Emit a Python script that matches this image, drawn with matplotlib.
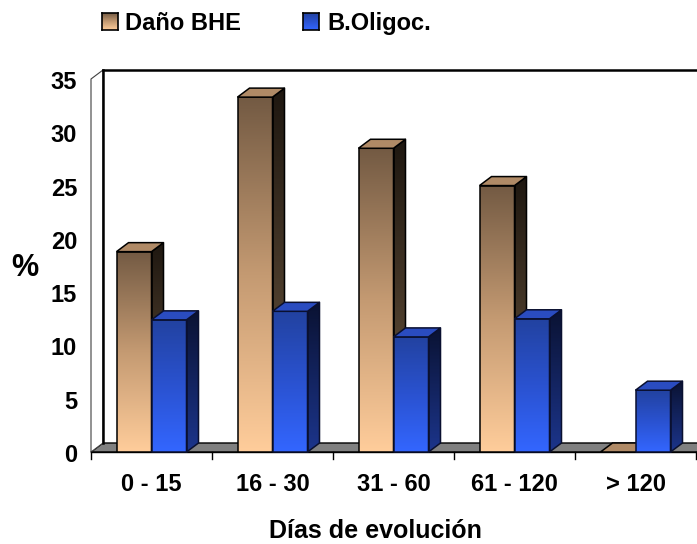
import numpy as np
import matplotlib
matplotlib.use("Agg")
import matplotlib.pyplot as plt
from matplotlib.patches import Polygon
from matplotlib.colors import LinearSegmentedColormap

# ---- data ----
categories = ["0 - 15", "16 - 30", "31 - 60", "61 - 120", "> 120"]
dano_bhe = [18.8, 33.3, 28.5, 25.0, 0.0]
b_oligoc = [12.4, 13.2, 10.8, 12.5, 5.8]
series_names = ["Daño BHE", "B.Oligoc."]
y_ticks = [0, 5, 10, 15, 20, 25, 30, 35]
x_label = "Días de evolución"
y_label = "%"

FONT = "Liberation Sans"
W, H = 697, 544
fig = plt.figure(figsize=(W / 100, H / 100), dpi=100)
fig.patch.set_facecolor("white")

# front plane of the 3-D box (pixel geometry of the plot area)
x0_px, y0_px, y1_px, cat_px = 91, 452, 79, 121
ax = fig.add_axes([x0_px / W, (H - y0_px) / H, (W - x0_px) / W, (y0_px - y1_px) / H])
ymax = 35
xmin = -0.5
xmax = xmin + (W - x0_px) / cat_px
ppu_y = (y0_px - y1_px) / ymax
DX = 12 / cat_px          # depth offset, x (data units)
DY = 9 / ppu_y            # depth offset, y (data units)
BW = 35 / cat_px          # bar width

ax.set_xlim(xmin, xmax)
ax.set_ylim(0, ymax)
ax.axis("off")

far = xmax + 1.0

# floor
floor = Polygon([(xmin, 0), (far, 0), (far + DX, DY), (xmin + DX, DY)], closed=True,
                facecolor="#808080", edgecolor="black", lw=1.0, clip_on=False, zorder=1)
ax.add_patch(floor)
# left wall
wall = Polygon([(xmin, 0), (xmin + DX, DY), (xmin + DX, ymax + DY), (xmin, ymax)], closed=True,
               facecolor="white", edgecolor="#404040", lw=0.8, clip_on=False, zorder=1)
ax.add_patch(wall)
ax.plot([xmin + DX, xmin + DX], [DY, ymax + DY], color="black", lw=1.8, clip_on=False, zorder=2)
ax.plot([xmin + DX, far], [ymax + DY, ymax + DY], color="black", lw=1.8, clip_on=False, zorder=2)
ax.plot([xmin, far], [0, 0], color="black", lw=1.0, clip_on=False, zorder=2)

# tick marks below the floor edge
tick_len = 7 / ppu_y
for k in range(len(categories) + 1):
    ax.plot([xmin + k, xmin + k], [0, -tick_len], color="black", lw=1.0, clip_on=False, zorder=2)

brown_front = LinearSegmentedColormap.from_list("bf", ["#ffcd9b", "#c49a72", "#735a43"])
brown_side = LinearSegmentedColormap.from_list("bs", ["#6e5840", "#1e1710"])
blue_front = LinearSegmentedColormap.from_list("uf", ["#3366ff", "#2a52d0", "#2242a0"])
blue_side = LinearSegmentedColormap.from_list("us", ["#1c358c", "#0a1232"])
grad = np.linspace(0, 1, 256).reshape(-1, 1)


def shaded(poly_pts, cmap, z, edge, lw):
    pts = np.array(poly_pts)
    patch = Polygon(pts, closed=True, facecolor="none", edgecolor=edge, lw=lw,
                    clip_on=False, zorder=z + 0.5, joinstyle="round")
    ax.add_patch(patch)
    clip = Polygon(pts, closed=True, transform=ax.transData, facecolor="none", edgecolor="none")
    im = ax.imshow(grad, cmap=cmap, origin="lower", aspect="auto",
                   extent=[pts[:, 0].min(), pts[:, 0].max(), pts[:, 1].min(), pts[:, 1].max()],
                   zorder=z, interpolation="bilinear")
    im.set_clip_path(clip)
    im.set_clip_on(True)


def bar3d(x, h, fcmap, scmap, topc, edge, z):
    # front face
    if h > 0:
        shaded([(x, 0), (x + BW, 0), (x + BW, h), (x, h)], fcmap, z, edge, 1.1)
        # side face
        shaded([(x + BW, 0), (x + BW + DX, DY), (x + BW + DX, h + DY), (x + BW, h)], scmap, z, edge, 1.1)
    top = Polygon([(x, h), (x + BW, h), (x + BW + DX, h + DY), (x + DX, h + DY)], closed=True,
                  facecolor=topc, edgecolor=edge, lw=1.1, clip_on=False, zorder=z + 0.6)
    ax.add_patch(top)


for i in range(len(categories)):
    bar3d(i - BW, dano_bhe[i], brown_front, brown_side, "#b08a66", "black", 3 + i * 2)
    bar3d(i, b_oligoc[i], blue_front, blue_side, "#2a4cc0", "#0a1030", 4 + i * 2)

ax.set_xlim(xmin, xmax)
ax.set_ylim(0, ymax)

px_to_pt = 72 / 100
# y tick labels
for v in y_ticks:
    ax.annotate(str(v), xy=(xmin, v), xytext=(-(x0_px - 77) * px_to_pt, -10 * px_to_pt),
                textcoords="offset points", ha="right", va="baseline",
                fontsize=17, fontweight="bold", family=FONT, annotation_clip=False)
# category labels
for i, c in enumerate(categories):
    ax.annotate(c, xy=(i, 0), xytext=(0, -(491 - y0_px) * px_to_pt),
                textcoords="offset points", ha="center", va="baseline",
                fontsize=17, fontweight="bold", family=FONT, annotation_clip=False)

fig.text(375 / W, 1 - 538 / H, x_label, ha="center", va="baseline",
         fontsize=18, fontweight="bold", family=FONT)
fig.text(25 / W, 1 - 276 / H, y_label, ha="center", va="baseline",
         fontsize=22, fontweight="bold", family=FONT)

# legend
legend_items = [(series_names[0], brown_front, 102, 125), (series_names[1], blue_front, 303, 327)]
for name, cmap, sq_x, tx in legend_items:
    sq = fig.add_axes([sq_x / W, 1 - 30 / H, 16 / W, 17 / H])
    sq.imshow(grad, cmap=cmap, origin="lower", aspect="auto", interpolation="bilinear")
    sq.set_xticks([])
    sq.set_yticks([])
    for s in sq.spines.values():
        s.set_linewidth(1.2)
        s.set_color("black")
    fig.text(tx / W, 1 - 30 / H, name, ha="left", va="baseline",
             fontsize=17, fontweight="bold", family=FONT)

fig.savefig("out.png", dpi=100, facecolor="white")
